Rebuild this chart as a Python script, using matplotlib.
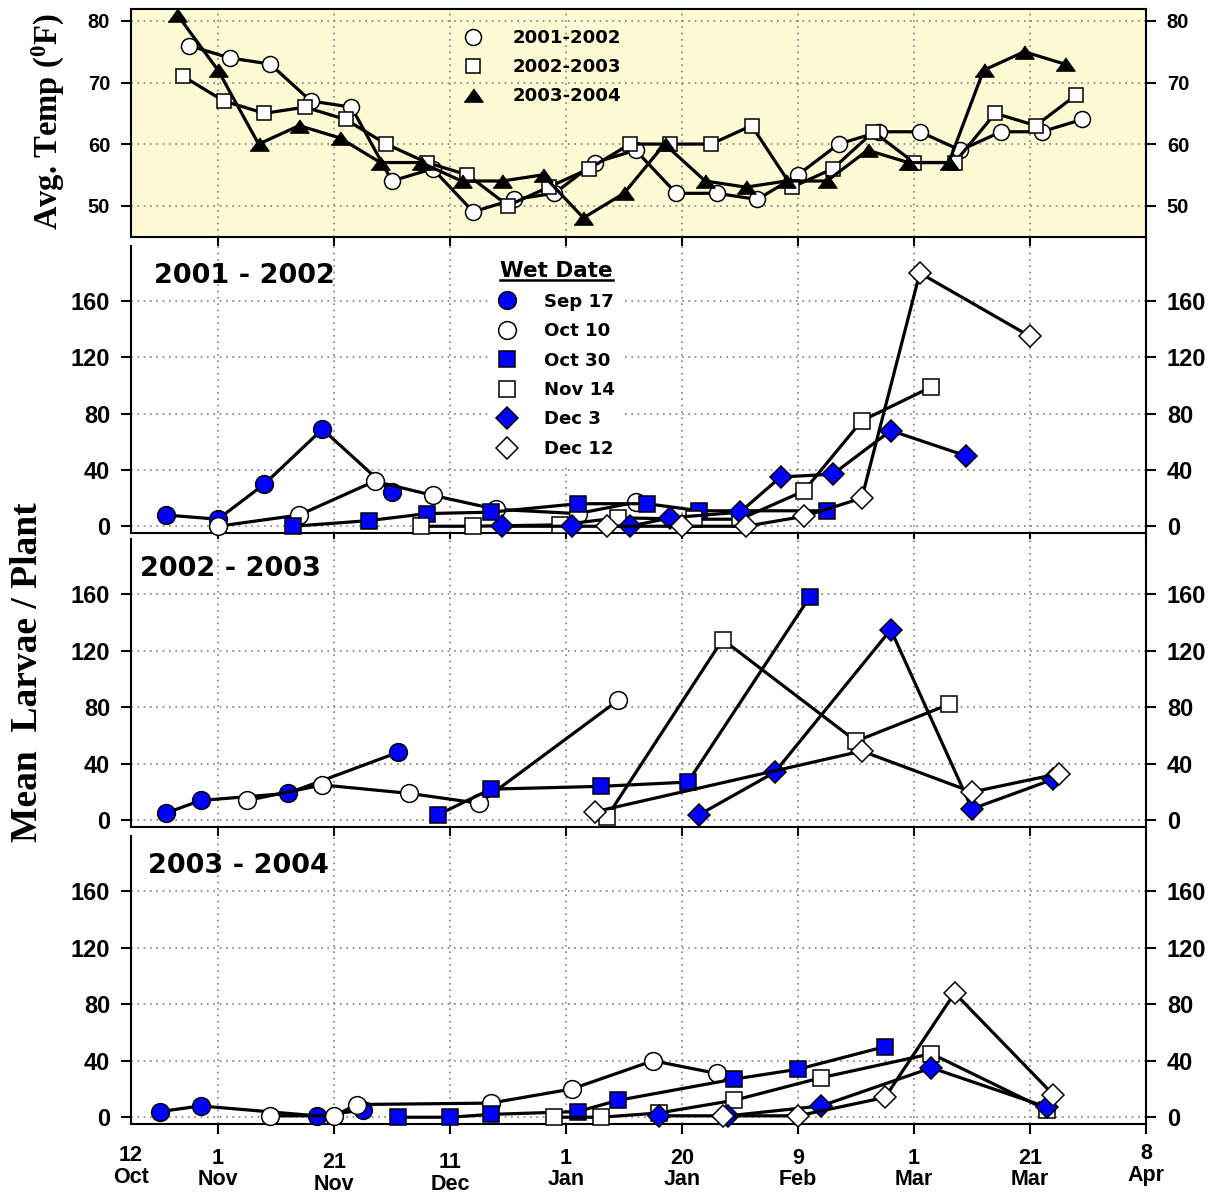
import matplotlib
matplotlib.use('Agg')
import matplotlib.pyplot as plt
from matplotlib.lines import Line2D
from matplotlib.transforms import IdentityTransform

plt.rcParams['mathtext.fontset'] = 'custom'
plt.rcParams['mathtext.rm'] = 'Liberation Serif'
plt.rcParams['mathtext.bf'] = 'Liberation Serif:bold'

# ---------------- data (x = days after 1 Nov) ----------------
xtick_pos = [-15, 0, 20, 40, 60, 80, 100, 120, 140, 160]
xtick_labels = ['12\nOct', '1\nNov', '21\nNov', '11\nDec', '1\nJan', '20\nJan',
                '9\nFeb', '1\nMar', '21\nMar', '8\nApr']
temp_ticks = [50, 60, 70, 80]
larvae_ticks = [0, 40, 80, 120, 160]

# Average temperature (F)
t0102_day = [-5, 2, 9, 16, 23, 30, 37, 44, 51, 58, 65, 72, 79, 86, 93, 100, 107, 114, 121, 128, 135, 142, 149]
t0102_val = [76, 74, 73, 67, 66, 54, 56, 49, 51, 52, 57, 59, 52, 52, 51, 55, 60, 62, 62, 59, 62, 62, 64]
t0203_day = [-6, 1, 8, 15, 22, 29, 36, 43, 50, 57, 64, 71, 78, 85, 92, 99, 106, 113, 120, 127, 134, 141, 148]
t0203_val = [71, 67, 65, 66, 64, 60, 57, 55, 50, 53, 56, 60, 60, 60, 63, 53, 56, 62, 57, 57, 65, 63, 68]
t0304_day = [-7, 0, 7, 14, 21, 28, 35, 42, 49, 56, 63, 70, 77, 84, 91, 98, 105, 112, 119, 126, 132, 139, 146]
t0304_val = [81, 72, 60, 63, 61, 57, 57, 54, 54, 55, 48, 52, 60, 54, 53, 54, 54, 59, 57, 57, 72, 75, 73]

# 2001 - 2002 larvae / plant
a_sep17_day = [-9, 0, 8, 18, 30]
a_sep17_val = [8, 5, 30, 69, 24]
a_oct10_day = [0, 14, 27, 37, 48, 62, 72]
a_oct10_val = [0, 8, 32, 22, 12, 9, 17]
a_oct30_day = [13, 26, 36, 47, 62, 74, 83, 105]
a_oct30_val = [0, 4, 9, 10, 16, 16, 11, 11]
a_nov14_day = [35, 44, 59, 69, 82, 90, 101, 111, 123]
a_nov14_val = [0, 0, 1, 6, 5, 5, 25, 75, 99]
a_dec3_day = [49, 61, 71, 78, 90, 97, 106, 116, 129]
a_dec3_val = [0, 0, 0, 6, 10, 35, 37, 68, 50]
a_dec12_day = [67, 80, 91, 101, 111, 121, 140]
a_dec12_val = [0, 0, 0, 7, 20, 180, 135]

# 2002 - 2003
b_sep17_day = [-9, -3, 12, 31]
b_sep17_val = [5, 14, 19, 48]
b_oct10_day = [5, 18, 33, 45, 69]
b_oct10_val = [14, 25, 19, 12, 85]
b_oct30_day = [38, 47, 66, 81, 102]
b_oct30_val = [4, 22, 24, 27, 158]
b_nov14_day = [67, 87, 110, 126]
b_nov14_val = [2, 128, 56, 82]
b_dec3_day = [83, 96, 116, 130, 144]
b_dec3_val = [4, 34, 135, 8, 29]
b_dec12_day = [65, 111, 130, 145]
b_dec12_val = [6, 49, 20, 33]

# 2003 - 2004
c_sep17_day = [-10, -3, 17, 25]
c_sep17_val = [4, 8, 1, 5]
c_oct10_day = [9, 20, 24, 47, 61, 75, 86]
c_oct10_val = [1, 1, 9, 10, 20, 40, 31]
c_oct30_day = [31, 40, 47, 62, 69, 89, 100, 115]
c_oct30_val = [0, 0, 2, 4, 12, 27, 34, 50]
c_nov14_day = [58, 66, 76, 89, 104, 123, 143]
c_nov14_val = [0, 0, 3, 12, 28, 45, 5]
c_dec3_day = [76, 88, 104, 123, 143]
c_dec3_val = [1, 1, 8, 35, 7]
c_dec12_day = [87, 100, 115, 127, 144]
c_dec12_val = [1, 1, 14, 88, 16]

season_labels = ['2001-2002', '2002-2003', '2003-2004']
panel_titles = ['2001 - 2002', '2002 - 2003', '2003 - 2004']
wet_labels = ['Sep 17', 'Oct 10', 'Oct 30', 'Nov 14', 'Dec 3', 'Dec 12']

# ---------------- styling ----------------
TRI = [(-1, -0.7), (1, -0.7), (0, 0.7)]
temp_styles = [('o', 'white', 11.5), ('s', 'white', 10.4), (TRI, 'black', 13.5)]
wet_styles = [('o', '#0000FF', 12.8), ('o', 'white', 12.8), ('s', '#0000FF', 11.4),
              ('s', 'white', 11.4), ('D', '#0000FF', 10.9), ('D', 'white', 10.9)]
SANS = 'DejaVu Sans'
TICKF = 'Liberation Sans'
GRID = dict(color='#808080', linestyle=(0, (1, 2.8)), linewidth=1.2)

W, H = 1225, 1201
L, R = 131, 1146
fig = plt.figure(figsize=(W / 100, H / 100), dpi=100)


def add_ax(top, bottom):
    return fig.add_axes([L / W, 1 - bottom / H, (R - L) / W, (bottom - top) / H])


ax0 = add_ax(9, 237)
ax1 = add_ax(246, 533)
ax2 = add_ax(539, 827)
ax3 = add_ax(836, 1124)


def style(ax, ylim, yticks, ysize, bottom_labels=False, top_spine=False):
    ax.set_xlim(-15, 160)
    ax.set_ylim(*ylim)
    ax.set_xticks(xtick_pos)
    ax.set_yticks(yticks)
    ax.grid(True, **GRID)
    ax.set_axisbelow(True)
    for s in ax.spines.values():
        s.set_linewidth(1.5)
    ax.spines['top'].set_visible(top_spine)
    ax.tick_params(axis='both', direction='out', length=7, width=1.5, pad=8)
    ax.tick_params(axis='y', left=True, right=True, labelleft=True, labelright=True,
                   labelsize=ysize)
    for t in ax.yaxis.get_major_ticks():
        for lab in (t.label1, t.label2):
            lab.set_fontweight('bold')
            lab.set_family(TICKF)
    if bottom_labels:
        ax.set_xticklabels(xtick_labels)
        ax.tick_params(axis='x', labelsize=15.5, pad=10)
        for t in ax.xaxis.get_major_ticks():
            t.label1.set_fontweight('bold')
            t.label1.set_family(TICKF)
            t.label1.set_linespacing(1.05)
    else:
        ax.tick_params(axis='x', labelbottom=False)
    ax.xaxis.get_major_ticks()[0].tick1line.set_visible(False)


# ---- temperature panel ----
style(ax0, (44.9, 81.95), temp_ticks, 14.5, top_spine=True)
ax0.set_facecolor('#FEFAD4')
temp_series = [(t0102_day, t0102_val), (t0203_day, t0203_val), (t0304_day, t0304_val)]
for (d, v), (mk, fc, ms), lab in zip(temp_series, temp_styles, season_labels):
    ax0.plot(d, v, color='black', lw=2.3, marker=mk, markersize=ms,
             markerfacecolor=fc, markeredgecolor='black', markeredgewidth=1.1,
             label=lab, clip_on=False, zorder=3)

thandles = [Line2D([], [], linestyle='None', marker=mk, markersize=ms,
                   markerfacecolor=fc, markeredgecolor='black', markeredgewidth=1.1)
            for (mk, fc, ms) in temp_styles]
ax0.legend(thandles, season_labels, loc='upper left', bbox_to_anchor=(0.328, 0.912),
           frameon=False, borderpad=0, borderaxespad=0, handlelength=1.0,
           handletextpad=1.7, labelspacing=0.61,
           prop=dict(family=SANS, weight='bold', size=13.1))

# ---- larvae panels ----
panels = [
    (ax1, [(a_sep17_day, a_sep17_val), (a_oct10_day, a_oct10_val), (a_oct30_day, a_oct30_val),
           (a_nov14_day, a_nov14_val), (a_dec3_day, a_dec3_val), (a_dec12_day, a_dec12_val)],
     (0.0227, 0.895)),
    (ax2, [(b_sep17_day, b_sep17_val), (b_oct10_day, b_oct10_val), (b_oct30_day, b_oct30_val),
           (b_nov14_day, b_nov14_val), (b_dec3_day, b_dec3_val), (b_dec12_day, b_dec12_val)],
     (0.0089, 0.896)),
    (ax3, [(c_sep17_day, c_sep17_val), (c_oct10_day, c_oct10_val), (c_oct30_day, c_oct30_val),
           (c_nov14_day, c_nov14_val), (c_dec3_day, c_dec3_val), (c_dec12_day, c_dec12_val)],
     (0.0167, 0.896)),
]
for i, (ax, series, tpos) in enumerate(panels):
    style(ax, (-4.8, 199.2), larvae_ticks, 17, bottom_labels=(i == 2))
    for (d, v), (mk, fc, ms) in zip(series, wet_styles):
        ax.plot(d, v, color='black', lw=2.3, marker=mk, markersize=ms,
                markerfacecolor=fc, markeredgecolor='black', markeredgewidth=1.1,
                clip_on=False, zorder=3)
    ax.text(tpos[0], tpos[1], panel_titles[i], transform=ax.transAxes, ha='left',
            va='center', fontsize=19.5, fontweight='bold', family=SANS)

# bottom tick label vertical adjustments
bt = ax3.xaxis.get_major_ticks()
for idx, dp in [(0, -2), (2, 3.5), (3, 3.5), (9, -3.5)]:
    bt[idx].set_pad(10 + dp)

whandles = [Line2D([], [], linestyle='None', marker=mk, markersize=ms,
                   markerfacecolor=fc, markeredgecolor='black', markeredgewidth=1.1)
            for (mk, fc, ms) in wet_styles]
leg1 = ax1.legend(whandles, wet_labels, loc='upper center', bbox_to_anchor=(0.419, 0.979),
                  title='Wet Date', frameon=True, facecolor='white', edgecolor='none',
                  framealpha=1, fancybox=False, borderpad=0.5, borderaxespad=0,
                  handlelength=1.0, handletextpad=1.53, labelspacing=0.63,
                  prop=dict(family=SANS, weight='bold', size=13.1),
                  title_fontproperties=dict(family=SANS, weight='bold', size=15.5))
leg1.set_zorder(5)

# axis titles
fig.text(48 / W, 1 - 122 / H, r'Avg. Temp ($\mathbf{^0}$F)', rotation=90, ha='center',
         va='center', fontsize=23.5, fontweight='bold', family='Liberation Serif')
fig.text(28 / W, 1 - 672 / H, 'Mean  Larvae / Plant', rotation=90, ha='center',
         va='center', fontsize=27, fontweight='bold', family='Liberation Serif')

# underline for legend title
fig.canvas.draw()
rend = fig.canvas.get_renderer()
bb = leg1.get_title().get_window_extent(rend)
fig.add_artist(Line2D([bb.x0, bb.x1], [bb.y0 + 1, bb.y0 + 1], transform=IdentityTransform(),
                      color='black', lw=1.8, zorder=10))

fig.savefig('out.png', dpi=100)
